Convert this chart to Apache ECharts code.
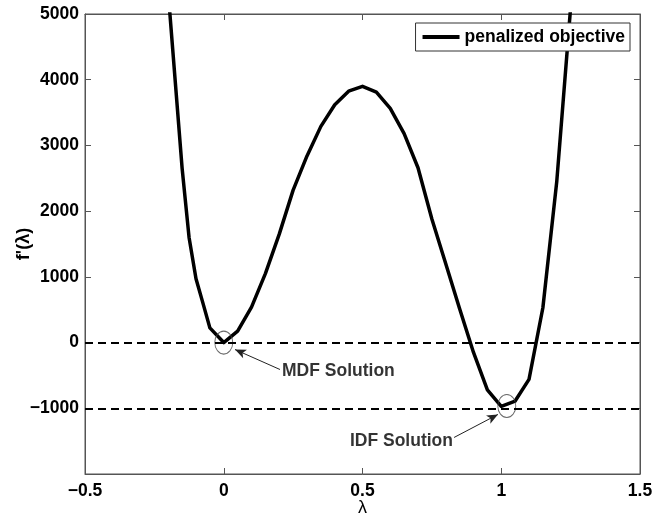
<!DOCTYPE html>
<html>
<head>
<meta charset="utf-8">
<script src="https://cdn.jsdelivr.net/npm/echarts@6/dist/echarts.min.js"></script>
<style>html,body{margin:0;padding:0;background:#fff}#c{width:666px;height:518px}</style>
</head>
<body>
<div id="c"></div>
<script>
// lambda sample positions and penalized objective values
var lambdaVals = [-0.2, -0.15, -0.125, -0.1, -0.075, -0.05, 0, 0.05, 0.1, 0.15, 0.2, 0.25, 0.3, 0.35, 0.4, 0.45, 0.5, 0.55, 0.6, 0.65, 0.7, 0.75, 0.8, 0.85, 0.9, 0.95, 1.0, 1.05, 1.1, 1.15, 1.2, 1.25];
var objVals    = [5320, 2650, 1600, 970, 600, 224, 0, 175, 540, 1050, 1650, 2320, 2840, 3290, 3620, 3825, 3900, 3810, 3565, 3180, 2660, 1880, 1200, 515, -150, -720, -970, -890, -560, 530, 2450, 5100];
var seriesName = 'penalized objective';
var refLevels = [0, -1000];
var xTicks = [-0.5, 0, 0.5, 1, 1.5];
var yTicks = [-1000, 0, 1000, 2000, 3000, 4000, 5000];
// solution markers [lambda, f]
var solutions = [[0, 0], [1.02, -965]];
// annotations
var noteText = ['MDF Solution', 'IDF Solution'];
var notePos = [[0.21, -441], [0.826, -1505]];
var noteAlign = ['left', 'right'];
var arrowFrom = [[0.2027, -410], [0.83, -1444]];
var arrowTo = [[0.0405, -106], [0.988, -1094]];

var FONT = '"Liberation Sans", Arial, Helvetica, sans-serif';
var lineData = lambdaVals.map(function (l, i) { return [l, objVals[i]]; });
function fmt(v) { return String(v).replace('-', '\u2212'); }

var chart = echarts.init(document.getElementById('c'), null, { renderer: 'canvas' });
var axisLineStyle = { color: '#555', width: 1 };
var labelStyle = { color: '#000', fontFamily: FONT, fontWeight: 'bold', fontSize: 17.5 };

chart.setOption({
  animation: false,
  backgroundColor: '#fff',
  grid: { left: 85, right: 26, top: 14, bottom: 44, show: true, borderColor: '#555', borderWidth: 1,
    containLabel: false, outerBoundsMode: 'none' },
  legend: {
    right: 36, top: 23, padding: [5, 5, 5, 7],
    borderColor: '#333', borderWidth: 1, backgroundColor: '#fff',
    itemWidth: 37, itemHeight: 4, itemGap: 5,
    data: [{ name: seriesName, icon: 'rect' }],
    textStyle: { color: '#000', fontFamily: FONT, fontWeight: 'bold', fontSize: 17.5 }
  },
  xAxis: [{
    type: 'value', min: xTicks[0], max: xTicks[xTicks.length - 1], interval: 0.5,
    axisLine: { show: true, onZero: false, lineStyle: axisLineStyle },
    axisTick: { show: true, inside: true, length: 6, lineStyle: axisLineStyle },
    axisLabel: Object.assign({ margin: 8, formatter: fmt }, labelStyle),
    splitLine: { show: false },
    name: 'λ', nameLocation: 'middle', nameGap: 25, nameMoveOverlap: false,
    nameTextStyle: { color: '#000', fontFamily: FONT, fontSize: 18 }
  }, {
    type: 'value', position: 'top', min: xTicks[0], max: xTicks[xTicks.length - 1], interval: 0.5,
    axisLine: { show: true, onZero: false, lineStyle: axisLineStyle },
    axisTick: { show: true, inside: true, length: 6, lineStyle: axisLineStyle },
    axisLabel: { show: false }, splitLine: { show: false }
  }],
  yAxis: [{
    type: 'value', min: -2000, max: yTicks[yTicks.length - 1], interval: 1000,
    axisLine: { show: true, onZero: false, lineStyle: axisLineStyle },
    axisTick: { show: true, inside: true, length: 6, lineStyle: axisLineStyle },
    axisLabel: Object.assign({ margin: 6, formatter: function (v) { return yTicks.indexOf(v) < 0 ? '' : fmt(v); } }, labelStyle),
    splitLine: { show: false },
    name: "f'(λ)", nameLocation: 'middle', nameGap: 52, nameRotate: 90, nameMoveOverlap: false,
    nameTextStyle: { color: '#000', fontFamily: FONT, fontWeight: 'bold', fontSize: 18 }
  }, {
    type: 'value', position: 'right', min: -2000, max: yTicks[yTicks.length - 1], interval: 1000,
    axisLine: { show: true, onZero: false, lineStyle: axisLineStyle },
    axisTick: { show: true, inside: true, length: 6, lineStyle: axisLineStyle },
    axisLabel: { show: false }, splitLine: { show: false }
  }],
  series: [{
    name: seriesName, type: 'line', data: lineData, showSymbol: false, symbol: 'none',
    clip: true, smooth: false,
    lineStyle: { color: '#000', width: 3.5, join: 'round' },
    itemStyle: { color: '#000' },
    markLine: {
      silent: true, symbol: ['none', 'none'], label: { show: false },
      lineStyle: { color: '#000', width: 1.8, type: [8, 5] },
      data: refLevels.map(function (v) { return { yAxis: v }; })
    },
    z: 3
  }, {
    name: 'solutions', type: 'scatter', data: solutions,
    symbol: 'circle', symbolSize: [18, 23],
    itemStyle: { color: 'rgba(0,0,0,0)', borderColor: '#444', borderWidth: 1 },
    z: 4
  }, {
    name: 'notes', type: 'scatter', symbolSize: 0,
    data: notePos.map(function (p, i) {
      return { value: p, name: noteText[i], label: { align: noteAlign[i] } };
    }),
    label: { show: true, position: [0, 0], verticalAlign: 'middle', formatter: '{b}',
      color: '#000', fontFamily: FONT, fontWeight: 'bold', fontSize: 17.5 },
    markLine: {
      silent: true, symbol: ['none', 'arrow'], symbolSize: [7, 11], label: { show: false },
      lineStyle: { color: '#222', width: 1, type: 'solid' },
      data: arrowFrom.map(function (p, i) { return [{ coord: p }, { coord: arrowTo[i] }]; })
    },
    z: 5
  }]
});
</script>
</body>
</html>
